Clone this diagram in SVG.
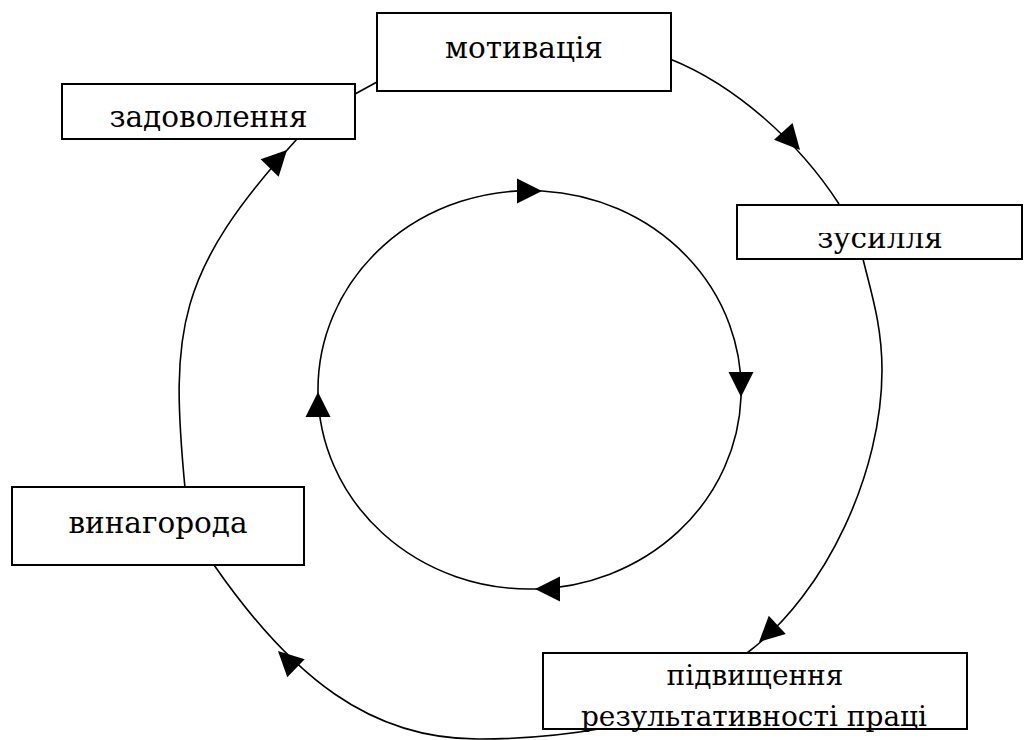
<svg xmlns="http://www.w3.org/2000/svg" xmlns:xlink="http://www.w3.org/1999/xlink" width="1025" height="740" viewBox="0 0 1025 740">
<style>
.box{fill:#fff;stroke:#000;stroke-width:2}
.lbl{font-family:'DejaVu Serif',serif;font-size:29.5px;fill:#000;text-anchor:middle}
.sm{font-size:28px}
.arc{fill:none;stroke:#000;stroke-width:1.6}
.ah{fill:#000;stroke:none}
</style>
<defs>
<path id="ah" d="M0,0 L-25,-12.5 L-25,12.5 Z"/>
<clipPath id="clipZ"><rect x="737" y="233" width="288" height="30"/></clipPath>
</defs>
<rect width="1025" height="740" fill="#fff"/>
<g id="connectors">
<path class="arc" d="M355,94 L377,82"/>
<path class="arc" d="M670,59 C735,85 799,142 839,204"/>
<path class="arc" d="M863,259 C871,292 882,325 882,370 C882,470 828,592 747,653"/>
<path class="arc" d="M605,728 C565,735 520,739 480,739 C370,740 291,676 214,565"/>
<path class="arc" d="M185,488 C170,330 176,272 297,139"/>
<path class="arc" d="M318,392 A211.5,199 0 0 1 542,191"/>
<path class="arc" d="M542,191 A211.5,199 0 0 1 741,397"/>
<path class="arc" d="M741,397 A211.5,199 0 0 1 535,589"/>
<path class="arc" d="M535,589 A211.5,199 0 0 1 318,392"/>
<use xlink:href="#ah" class="ah" transform="translate(800,150) rotate(48)"/>
<use xlink:href="#ah" class="ah" transform="translate(759,642) rotate(137)"/>
<use xlink:href="#ah" class="ah" transform="translate(278,651) rotate(-136)"/>
<use xlink:href="#ah" class="ah" transform="translate(287,150) rotate(-46)"/>
<use xlink:href="#ah" class="ah" transform="translate(542,191) rotate(0)"/>
<use xlink:href="#ah" class="ah" transform="translate(741,397) rotate(90)"/>
<use xlink:href="#ah" class="ah" transform="translate(535,589) rotate(180)"/>
<use xlink:href="#ah" class="ah" transform="translate(318,392) rotate(-90)"/>
</g>
<g id="motyvatsiia">
<rect class="box" x="377" y="13" width="294" height="78"/>
<text class="lbl" x="524" y="58">мотивація</text>
</g>
<g id="zadovolennia">
<rect class="box" x="62" y="84" width="293" height="55"/>
<text class="lbl" x="208.5" y="127">задоволення</text>
</g>
<g id="zusyllia">
<rect class="box" x="737" y="205" width="285" height="54"/>
<text class="lbl" x="880" y="248" clip-path="url(#clipZ)">зусилля</text>
</g>
<g id="vynahoroda">
<rect class="box" x="12" y="487" width="292" height="78"/>
<text class="lbl" x="158" y="533">винагорода</text>
</g>
<g id="pidvyshchennia">
<rect class="box" x="543" y="653" width="424" height="76"/>
<text class="lbl sm" x="755" y="685">підвищення</text>
<text class="lbl sm" x="754" y="725.5">результативності праці</text>
</g>
</svg>
